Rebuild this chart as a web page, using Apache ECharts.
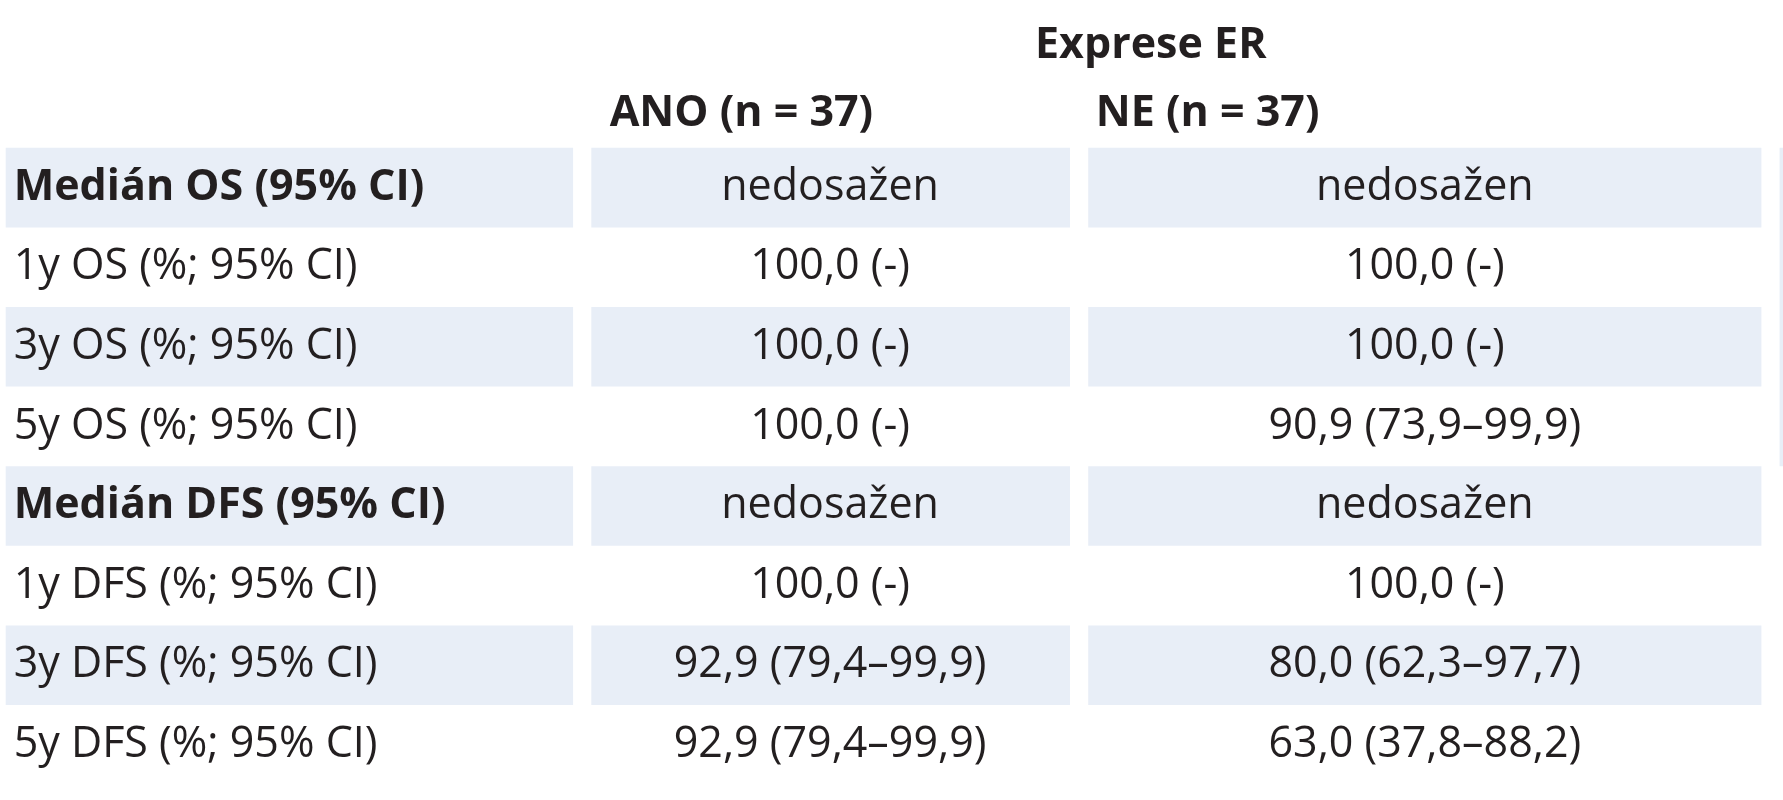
<!DOCTYPE html>
<html><head><meta charset="utf-8">
<script src="https://cdn.jsdelivr.net/npm/echarts@6/dist/echarts.min.js"></script>
<style>html,body{margin:0;background:#fff}#c{width:1783px;height:800px}</style>
</head><body><div id="c"></div>
<script>
const rowLabels = ["Medián OS (95% CI)","1y OS (%; 95% CI)","3y OS (%; 95% CI)","5y OS (%; 95% CI)","Medián DFS (95% CI)","1y DFS (%; 95% CI)","3y DFS (%; 95% CI)","5y DFS (%; 95% CI)"];
const boldRows = [0,4];
const anoValues = ["nedosažen","100,0 (-)","100,0 (-)","100,0 (-)","nedosažen","100,0 (-)","92,9 (79,4–99,9)","92,9 (79,4–99,9)"];
const neValues = ["nedosažen","100,0 (-)","100,0 (-)","90,9 (73,9–99,9)","nedosažen","100,0 (-)","80,0 (62,3–97,7)","63,0 (37,8–88,2)"];
const pValues = ["0,34","0,066"];
const headerTop = "Exprese ER";
const headerP = "p*";
const groupHeaders = ["ANO (n = 37)","NE (n = 37)"];

const S = 1783/1568;
const font = '"Open Sans",sans-serif';
const col = '#231f20', shade = '#e8eef7';
const rowY0 = 130*S, rowH = 70*S;
const cols = [{x:5,w:499},{x:520,w:421},{x:957,w:592}].map(c=>({x:c.x*S,w:c.w*S}));
const pCol = {x:1565*S,w:193*S};
const els = [];
function txt(x,y,s,bold,align){els.push({type:'text',x:x,y:y,style:{text:s,font:(bold?'bold ':'')+'43px '+font,fill:col,align:align||'center',verticalAlign:'middle'}});}
rowLabels.forEach((l,i)=>{
  const y=rowY0+i*rowH;
  if(i%2===0) cols.forEach(c=>els.push({type:'rect',shape:{x:c.x,y:y,width:c.w,height:rowH},style:{fill:shade},z:-1}));
  txt(12*S,y+rowH/2,l,boldRows.includes(i),'left');
  txt(730*S,y+rowH/2,anoValues[i],false);
  txt(1253*S,y+rowH/2,neValues[i],false);
});
els.push({type:'rect',shape:{x:pCol.x,y:rowY0,width:pCol.w,height:rowH*4},style:{fill:shade},z:-1});
txt(1661*S,rowY0+rowH/2,pValues[0],false);
txt(1661*S,rowY0+4*rowH+rowH/2,pValues[1],false);
txt(1012*S,40*S,headerTop,true);
txt(1661*S,40*S,headerP,true);
txt(652*S,100*S,groupHeaders[0],true);
txt(1062*S,100*S,groupHeaders[1],true);
const chart = echarts.init(document.getElementById('c'));
chart.setOption({animation:false,graphic:{elements:els}});
</script></body></html>
